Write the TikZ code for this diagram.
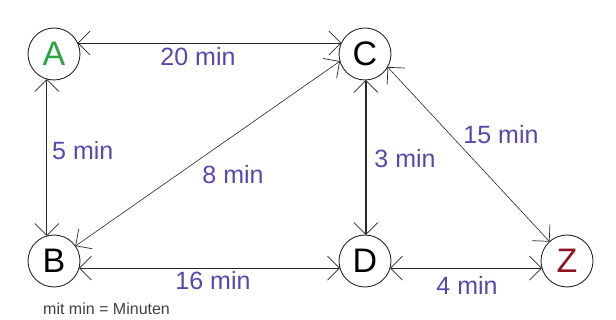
\documentclass[tikz,border=0pt]{standalone}
\usepackage{fontspec}
\setmainfont{Liberation Sans}
\usetikzlibrary{arrows.meta}
\definecolor{lblblue}{RGB}{88,72,172}
\definecolor{agreen}{RGB}{40,165,60}
\definecolor{zred}{RGB}{140,20,30}
\definecolor{edgegray}{RGB}{40,40,40}
\begin{document}
\begin{tikzpicture}[x=1pt,y=-1pt,
  vertex/.style={circle,draw=edgegray,line width=0.9pt,minimum size=52pt,inner sep=0pt,outer sep=0pt,font=\fontsize{34}{36}\selectfont},
  edge/.style={draw=edgegray,line width=0.8pt,{Straight Barb[length=12pt,width=24pt,line width=0.7pt]}-{Straight Barb[length=12pt,width=24pt,line width=0.7pt]}},
  lbl/.style={text=lblblue,font=\fontsize{25}{28}\selectfont,inner sep=0pt}]
\useasboundingbox (0,0) rectangle (616,320);
\fill[white] (0,0) rectangle (616,320);
\node[vertex,text=agreen] (A) at (54,54) {A};
\node[vertex] (C) at (365,54) {C};
\node[vertex] (B) at (54,261) {B};
\node[vertex] (D) at (365,261) {D};
\node[vertex,text=zred] (Z) at (567,261) {Z};
\draw[edge,line width=1pt] (A.25) -- (C.155);
\draw[edge,line width=1.2pt] (A.-106) -- (B.106);
\draw[edge,line width=1.2pt] (B.-16) -- (D.-164);
\draw[edge] (D.-16) -- (Z.-164);
\draw[edge,line width=1.6pt] (C.-88) -- (D.88);
\draw[edge,line width=0.6pt] (C.196) -- (B.35);
\draw[edge,line width=0.6pt] (C.-30) -- (Z.132);
\node[lbl] (l20) at (198,57) {20 min};
\node[lbl,anchor=west] (l5) at (52,151) {5 min};
\node[lbl] (l8) at (233,175) {8 min};
\node[lbl] (l3) at (405,159) {3 min};
\node[lbl] (l15) at (501,135) {15 min};
\node[lbl] (l16) at (213,281) {16 min};
\node[lbl] (l4) at (467,285) {4 min};
\node[anchor=west,inner sep=0pt,text=black!75,font=\fontsize{16}{18}\selectfont] (cap) at (43,309) {mit min = Minuten};
\end{tikzpicture}
\end{document}
